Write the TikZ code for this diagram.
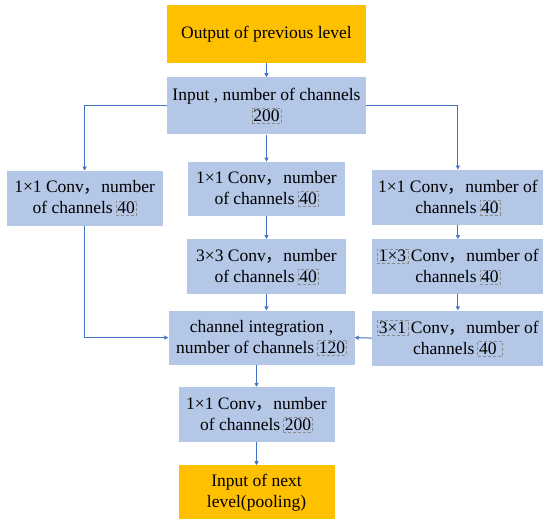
\documentclass[tikz,border=0pt]{standalone}
\usepackage{fontspec}
\setmainfont{Liberation Serif}
\newfontfamily\cjk{Noto Sans CJK SC}
\usetikzlibrary{arrows.meta,positioning}
\definecolor{boxblue}{RGB}{180,199,231}
\definecolor{boxorange}{RGB}{255,192,0}
\definecolor{linkblue}{RGB}{68,114,196}
\newcommand{\numbox}[1]{\tikz[baseline=(nb.base)]\node[draw=black!45,densely dashed,
  line width=0.4pt,fill=none,inner sep=1.5pt,minimum size=0pt] (nb) {#1};}
\newcommand{\fwc}{{\cjk ，}}
\tikzset{
  blk/.style={align=center, inner sep=2pt, font=\fontsize{17.5}{21}\selectfont,
              minimum height=55pt},
  fillb/.style={fill=boxblue},
  fillo/.style={fill=boxorange},
  sig/.style={-{Triangle[length=4pt,width=4pt]}, draw=linkblue, line width=1pt},
}
\begin{document}
\begin{tikzpicture}[x=1pt,y=-1pt]
  \useasboundingbox (0,0) rectangle (550,523);
  \node[blk,fillo,minimum width=199pt,minimum height=58pt] (prev) at (266.5,34)
    {Output of previous level};
  \node[blk,fillb,minimum width=199pt,minimum height=57pt,below=14pt of prev] (inp)
    {Input , number of channels\\\numbox{200}};
  \node[blk,fillb,minimum width=157pt,minimum height=54pt,below=27pt of inp] (m1)
    {1×1 Conv\fwc number\\of channels\,\numbox{40}};
  \node[blk,fillb,minimum width=159pt,below=23pt of m1] (m2)
    {3×3 Conv\fwc number\\of channels\,\numbox{40}};
  \node[blk,fillb,minimum width=186pt,minimum height=54pt,below=16pt of m2,xshift=-5pt] (ci)
    {channel integration ,\\number of channels\,\numbox{120}};
  \node[blk,fillb,minimum width=156pt,below=22pt of ci,xshift=-5pt] (c200)
    {1×1 Conv\fwc number\\of channels\,\numbox{200}};
  \node[blk,fillo,minimum width=156pt,minimum height=54pt,below=23pt of c200] (nxt)
    {Input of next\\level(pooling)};
  \node[blk,fillb,minimum width=156pt,left=25pt of m1,yshift=-9.5pt] (l1)
    {1×1 Conv\fwc number\\of channels\,\numbox{40}};
  \node[blk,fillb,minimum width=171pt,right=27pt of m1,yshift=-8.5pt] (r1)
    {1×1 Conv\fwc number of\\channels\,\numbox{40}};
  \node[blk,fillb,minimum width=171pt,below=14pt of r1] (r2)
    {\numbox{1×3}\,Conv\fwc number of\\channels\,\numbox{40}};
  \node[blk,fillb,minimum width=171pt,below=16pt of r2] (r3)
    {\numbox{3×1}\,Conv\fwc number of\\channels\,\numbox{40\ }};
  \draw[sig] (prev) -- (inp);
  \draw[sig] (inp) -- (m1);
  \draw[sig] (inp.west) -| (l1.north);
  \draw[sig] (inp.east) -| (r1.north);
  \draw[sig] (m1) -- (m2);
  \draw[sig] (m2.south) -- (m2.south |- ci.north);
  \draw[sig] (l1.south) |- (ci.west);
  \draw[sig] (r1) -- (r2);
  \draw[sig] (r2) -- (r3);
  \draw[sig] (r3.west) -- (ci.east);
  \draw[sig] (c200.north |- ci.south) -- (c200.north);
  \draw[sig] (c200) -- (nxt);
\end{tikzpicture}
\end{document}
